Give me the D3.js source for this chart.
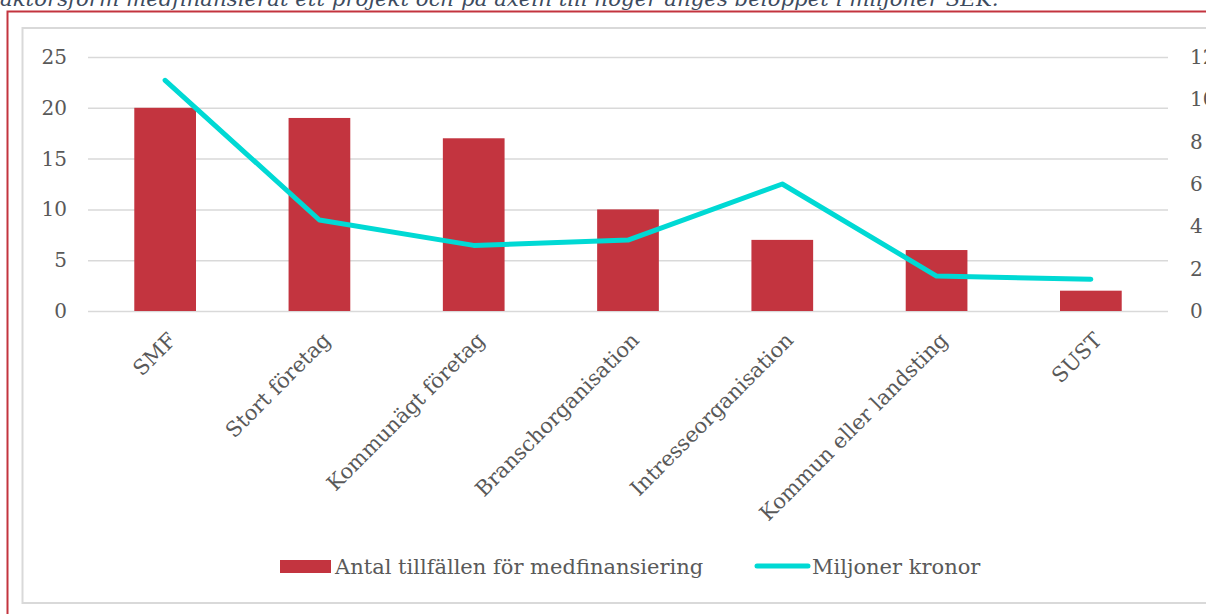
<!DOCTYPE html>
<html>
<head>
<meta charset="utf-8">
<script src="https://cdn.jsdelivr.net/npm/d3@7"></script>
<style>
  html, body { margin: 0; padding: 0; background: #fff; overflow: hidden; }
  svg { display: block; }
</style>
</head>
<body>
<svg id="chart" width="1206" height="614"></svg>
<script>
// data
var categories = ["SMF", "Stort företag", "Kommunägt företag", "Branschorganisation",
  "Intresseorganisation", "Kommun eller landsting", "SUST"];
var antal = [20, 19, 17, 10, 7, 6, 2];                   // left axis
var miljoner = [10.9, 4.3, 3.1, 3.35, 6.0, 1.65, 1.5];    // right axis
var leftTicks = [0, 5, 10, 15, 20, 25];
var rightTicks = [0, 2, 4, 6, 8, 10, 12];
var seriesNames = ["Antal tillfällen för medfinansiering", "Miljoner kronor"];
var caption = "aktörsform medfinansierat ett projekt och på axeln till höger anges beloppet i miljoner SEK.";

var red = "#c3343f", cyan = "#00d9d4", grey = "#595959", grid = "#d9d9d9";
var font = "'DejaVu Serif', Georgia, serif";

var svg = d3.select("#chart");

// caption cut at the top of the page
svg.append("text")
  .attr("x", 0).attr("y", 6)
  .attr("font-family", font).attr("font-style", "italic")
  .attr("font-size", 21.3).attr("fill", "#3d4b5e")
  .text(caption);

// red frame (top and left only visible)
svg.append("rect")
  .attr("x", 7.5).attr("y", 11.5).attr("width", 1300).attr("height", 700)
  .attr("fill", "none").attr("stroke", red).attr("stroke-width", 2);

// grey chart box
svg.append("rect")
  .attr("x", 22.5).attr("y", 28).attr("width", 1300).attr("height", 575)
  .attr("fill", "#fff").attr("stroke", grid).attr("stroke-width", 2);

var plotLeft = 88, plotRight = 1168, plotTop = 57, plotBottom = 311;

var x = d3.scaleBand().domain(categories).range([plotLeft, plotRight])
  .paddingInner(0.6).paddingOuter(0.3);
var yL = d3.scaleLinear().domain([0, 25]).range([plotBottom, plotTop]);
var yR = d3.scaleLinear().domain([0, 12]).range([plotBottom, plotTop]);

// gridlines
var gGrid = svg.append("g").attr("transform", "translate(" + plotLeft + ",0)")
  .call(d3.axisLeft(yL).tickValues(leftTicks).tickSize(-(plotRight - plotLeft)).tickFormat(""));
gGrid.select(".domain").remove();
gGrid.selectAll("line").attr("stroke", grid).attr("stroke-width", 1.5);

// left axis labels
var gL = svg.append("g").attr("transform", "translate(67,0)")
  .call(d3.axisLeft(yL).tickValues(leftTicks).tickSize(0).tickPadding(0));
gL.select(".domain").remove();
gL.selectAll("text").attr("font-family", font).attr("font-size", 20).attr("fill", grey);

// right axis labels
var gR = svg.append("g").attr("transform", "translate(1190,0)")
  .call(d3.axisRight(yR).tickValues(rightTicks).tickSize(0).tickPadding(0));
gR.select(".domain").remove();
gR.selectAll("text").attr("font-family", font).attr("font-size", 20).attr("fill", grey);

// bars
svg.append("g").selectAll("rect")
  .data(antal)
  .join("rect")
  .attr("x", function(d, i) { return x(categories[i]); })
  .attr("width", x.bandwidth())
  .attr("y", function(d) { return yL(d); })
  .attr("height", function(d) { return yL(0) - yL(d); })
  .attr("fill", red);

// line
var line = d3.line()
  .x(function(d, i) { return x(categories[i]) + x.bandwidth() / 2; })
  .y(function(d) { return yR(d); });
svg.append("path")
  .datum(miljoner)
  .attr("d", line)
  .attr("fill", "none").attr("stroke", cyan).attr("stroke-width", 5)
  .attr("stroke-linecap", "round").attr("stroke-linejoin", "round");

// category labels rotated -45
var gX = svg.append("g").attr("transform", "translate(2," + (plotBottom + 20) + ")")
  .call(d3.axisBottom(x).tickSize(0).tickPadding(0));
gX.select(".domain").remove();
gX.selectAll("text")
  .attr("font-family", font).attr("font-size", 21).attr("fill", grey)
  .attr("text-anchor", "end").attr("dy", "0.7em")
  .attr("transform", "rotate(-45)");

// legend
var leg = svg.append("g");
leg.append("rect").attr("x", 280).attr("y", 560).attr("width", 51).attr("height", 13).attr("fill", red);
leg.append("text").attr("x", 335).attr("y", 574)
  .attr("font-family", font).attr("font-size", 21).attr("fill", grey).text(seriesNames[0]);
leg.append("line").attr("x1", 757).attr("x2", 808).attr("y1", 566).attr("y2", 566)
  .attr("stroke", cyan).attr("stroke-width", 5).attr("stroke-linecap", "round");
leg.append("text").attr("x", 812).attr("y", 574)
  .attr("font-family", font).attr("font-size", 21).attr("fill", grey).text(seriesNames[1]);
</script>
</body>
</html>
